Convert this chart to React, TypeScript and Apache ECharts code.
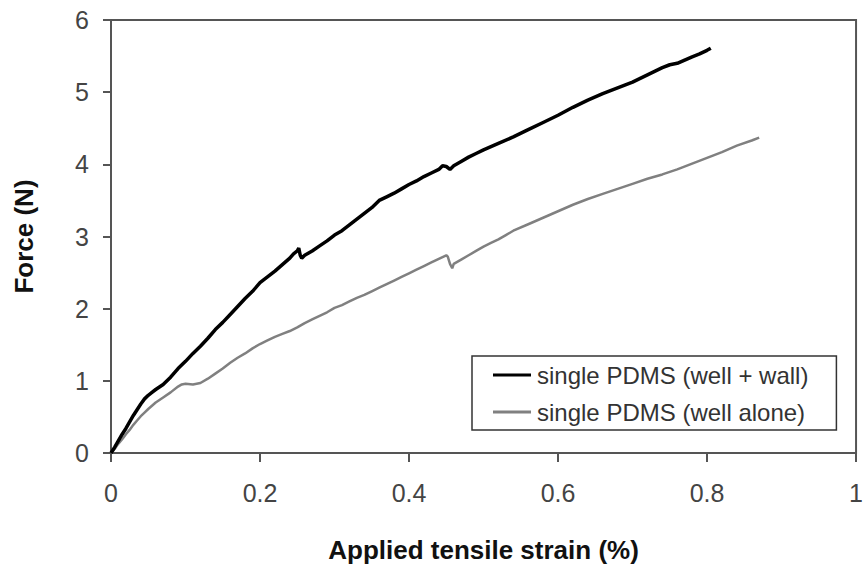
import React, { useEffect, useRef } from "react";
import * as echarts from "echarts";

const xTicks = [0, 0.2, 0.4, 0.6, 0.8, 1];
const yTicks = [0, 1, 2, 3, 4, 5, 6];
const seriesNames = ["single PDMS (well + wall)", "single PDMS (well alone)"];

const wellWallStrain = [0,0.005,0.01,0.015,0.02,0.025,0.03,0.035,0.04,0.045,0.05,0.055,0.06,0.07,0.08,0.09,0.10,0.11,0.12,0.13,0.14,0.15,0.16,0.17,0.18,0.19,0.20,0.21,0.22,0.23,0.24,0.245,0.25,0.252,0.254,0.256,0.26,0.27,0.28,0.29,0.30,0.31,0.32,0.33,0.34,0.35,0.36,0.37,0.38,0.39,0.40,0.41,0.42,0.43,0.44,0.445,0.45,0.455,0.46,0.47,0.48,0.49,0.50,0.52,0.54,0.56,0.58,0.60,0.62,0.64,0.66,0.68,0.70,0.72,0.74,0.75,0.76,0.78,0.79,0.80,0.805];
const wellWallForce = [0,0.08,0.17,0.26,0.34,0.43,0.52,0.60,0.68,0.75,0.80,0.84,0.88,0.95,1.05,1.17,1.27,1.38,1.48,1.59,1.71,1.81,1.92,2.03,2.14,2.24,2.36,2.44,2.52,2.61,2.70,2.76,2.80,2.84,2.74,2.70,2.74,2.80,2.87,2.94,3.02,3.08,3.16,3.24,3.32,3.40,3.50,3.55,3.60,3.66,3.72,3.77,3.83,3.88,3.93,3.98,3.97,3.93,3.98,4.04,4.10,4.15,4.20,4.29,4.38,4.48,4.58,4.68,4.79,4.89,4.98,5.06,5.14,5.24,5.34,5.38,5.40,5.49,5.53,5.58,5.61];

const wellAloneStrain = [0,0.005,0.01,0.015,0.02,0.025,0.03,0.035,0.04,0.045,0.05,0.06,0.07,0.08,0.09,0.095,0.10,0.11,0.12,0.13,0.14,0.15,0.16,0.17,0.18,0.19,0.20,0.21,0.22,0.23,0.24,0.25,0.26,0.27,0.28,0.29,0.30,0.31,0.32,0.33,0.34,0.35,0.36,0.37,0.38,0.39,0.40,0.41,0.42,0.43,0.44,0.45,0.452,0.455,0.458,0.46,0.47,0.48,0.49,0.50,0.51,0.52,0.53,0.54,0.56,0.58,0.60,0.62,0.64,0.66,0.68,0.70,0.72,0.74,0.76,0.78,0.80,0.82,0.84,0.86,0.87];
const wellAloneForce = [0,0.06,0.13,0.19,0.26,0.32,0.39,0.45,0.51,0.56,0.61,0.70,0.77,0.84,0.92,0.95,0.96,0.95,0.97,1.03,1.10,1.17,1.25,1.32,1.38,1.45,1.51,1.56,1.61,1.65,1.69,1.74,1.80,1.85,1.90,1.95,2.01,2.05,2.10,2.15,2.19,2.24,2.29,2.34,2.39,2.44,2.49,2.54,2.59,2.64,2.69,2.74,2.72,2.62,2.56,2.62,2.68,2.74,2.80,2.86,2.91,2.96,3.02,3.08,3.17,3.26,3.35,3.44,3.52,3.59,3.66,3.73,3.80,3.86,3.93,4.01,4.09,4.17,4.26,4.33,4.37];

const pairs = (xs: number[], ys: number[]) => xs.map((x, i) => [x, ys[i]]);

export default function App() {
  const ref = useRef<HTMLDivElement>(null);
  useEffect(() => {
    if (!ref.current) return;
    const chart = echarts.init(ref.current, null, { renderer: "svg" });
    const font = "Liberation Sans, Arial, sans-serif";
    chart.setOption({
      animation: false,
      backgroundColor: "#ffffff",
      grid: {
        left: 111,
        right: 9,
        top: 20,
        bottom: 116,
        show: true,
        borderColor: "#555555",
        borderWidth: 2,
        containLabel: false,
      },
      legend: {
        orient: "vertical",
        left: 472,
        top: 356,
        icon: "rect",
        itemWidth: 38,
        itemHeight: 3,
        itemGap: 13,
        padding: [7, 28, 6, 21],
        borderColor: "#333333",
        borderWidth: 1.5,
        backgroundColor: "#ffffff",
        textStyle: { fontFamily: font, fontSize: 24, color: "#333333", padding: [0, 0, 0, 1] },
        data: seriesNames,
      },
      xAxis: {
        type: "value",
        min: 0,
        max: 1,
        interval: 0.2,
        name: "Applied tensile strain (%)",
        nameLocation: "middle",
        nameGap: 84,
        nameTextStyle: { fontFamily: font, fontSize: 26, fontWeight: "bold", color: "#111111" },
        axisLine: { show: true, lineStyle: { color: "#555555", width: 2 } },
        axisTick: { show: true, inside: false, length: 9, lineStyle: { color: "#555555", width: 2 } },
        axisLabel: {
          fontFamily: font,
          fontSize: 25,
          color: "#444444",
          margin: 27,
          formatter: (v: number) => (xTicks.includes(Number(v.toFixed(1))) ? String(Number(v.toFixed(1))) : ""),
        },
        splitLine: { show: false },
      },
      yAxis: {
        type: "value",
        min: 0,
        max: 6,
        interval: 1,
        name: "Force (N)",
        nameLocation: "middle",
        nameGap: 74,
        nameTextStyle: { fontFamily: font, fontSize: 26, fontWeight: "bold", color: "#111111" },
        axisLine: { show: true, lineStyle: { color: "#555555", width: 2 } },
        axisTick: { show: true, inside: false, length: 8, lineStyle: { color: "#555555", width: 2 } },
        axisLabel: {
          fontFamily: font,
          fontSize: 25,
          color: "#444444",
          margin: 22,
          formatter: (v: number) => (yTicks.includes(v) ? String(v) : ""),
        },
        splitLine: { show: false },
      },
      series: [
        {
          name: seriesNames[0],
          type: "line",
          data: pairs(wellWallStrain, wellWallForce),
          symbol: "none",
          lineStyle: { color: "#000000", width: 3.5 },
          itemStyle: { color: "#000000" },
          z: 3,
        },
        {
          name: seriesNames[1],
          type: "line",
          data: pairs(wellAloneStrain, wellAloneForce),
          symbol: "none",
          lineStyle: { color: "#808080", width: 2.5 },
          itemStyle: { color: "#808080" },
          z: 2,
        },
      ],
    });
    return () => chart.dispose();
  }, []);
  return (
    <div
      ref={ref}
      style={{ position: "fixed", left: 0, top: 0, width: 866, height: 569, background: "#fff" }}
    />
  );
}
